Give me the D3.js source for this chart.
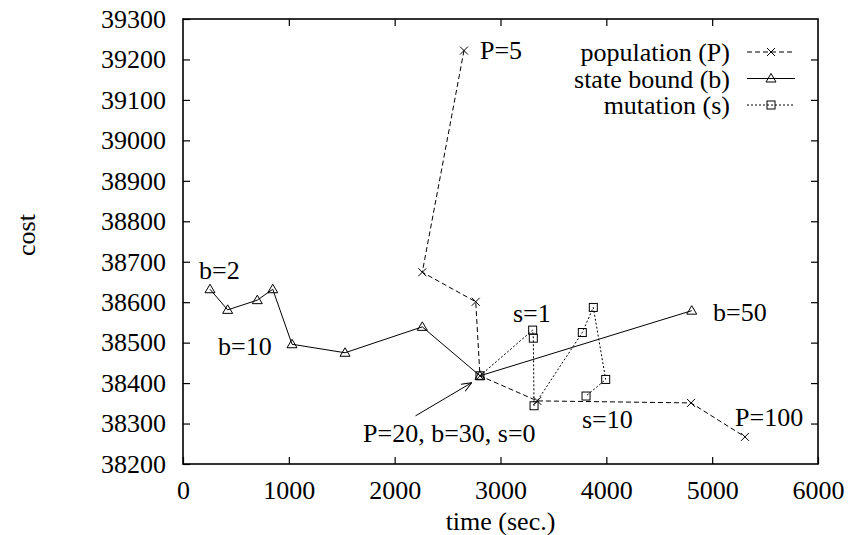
<!DOCTYPE html>
<html>
<head>
<meta charset="utf-8">
<script src="https://cdn.jsdelivr.net/npm/d3@7"></script>
<style>
  body { margin: 0; background: #fff; }
  text { font-family: "Liberation Serif", "Times New Roman", Times, serif; fill: #000; }
</style>
</head>
<body>
<div id="chart-area"></div>
<script>
// plot area, roughly the gnuplot frame of the original
let margin = {top: 19, right: 31, bottom: 71, left: 183};
let width = 849 - margin.left - margin.right;
let height = 535 - margin.top - margin.bottom;
let fontSize = 26;

// data: time (sec.) and cost for each series
let popTime = [2655, 2261, 2766, 2806, 3348, 4800, 5310];
let popCost = [39222, 38674, 38601, 38418, 38356, 38351, 38267];

let boundTime = [255, 422, 702, 848, 1030, 1531, 2261, 2806, 4807];
let boundCost = [38632, 38581, 38605, 38632, 38496, 38475, 38539, 38418, 38579];

let mutTime = [2806, 3304, 3310, 3317, 3773, 3877, 3994, 3808];
let mutCost = [38418, 38531, 38511, 38344, 38525, 38587, 38409, 38368];

let xTicks = [0, 1000, 2000, 3000, 4000, 5000, 6000];
let yTicks = [38200, 38300, 38400, 38500, 38600, 38700, 38800, 38900, 39000, 39100, 39200, 39300];

let seriesNames = ["population (P)", "state bound (b)", "mutation (s)"];

// annotations placed in data coordinates
let noteText = ["P=5", "b=2", "b=10", "s=1", "b=50", "s=10", "P=100", "P=20, b=30, s=0"];
let noteTime = [2806, 151, 331, 3118, 5008, 3770, 5216, 1701];
let noteCost = [39223, 38680, 38492, 38574, 38576, 38311, 38317, 38277];
let arrowFrom = [2197, 38319];
let arrowTo = [2728, 38401];

let svg = d3.select("#chart-area").append("svg")
    .attr("width", width + margin.left + margin.right)
    .attr("height", height + margin.top + margin.bottom);

let g = svg.append("g")
    .attr("transform", "translate(" + margin.left + "," + margin.top + ")");

let xScale = d3.scaleLinear().domain([0, 6000]).range([0, width]);
let yScale = d3.scaleLinear().domain([38200, 39300]).range([height, 0]);

// axes - gnuplot style, ticks pointing inwards and mirrored
let xAxis = d3.axisBottom(xScale).tickValues(xTicks).tickFormat(d3.format("d"))
    .tickSizeInner(-7).tickSizeOuter(0).tickPadding(17);
let yAxis = d3.axisLeft(yScale).tickValues(yTicks).tickFormat(d3.format("d"))
    .tickSizeInner(-7).tickSizeOuter(0).tickPadding(17);

let xGroup = g.append("g").attr("transform", `translate(0,${height})`).call(xAxis);
let yGroup = g.append("g").call(yAxis);

g.append("g").call(d3.axisTop(xScale).tickValues(xTicks.slice(1, -1)).tickSizeInner(-7).tickSizeOuter(0).tickFormat(""));
g.append("g").attr("transform", `translate(${width},0)`)
    .call(d3.axisRight(yScale).tickValues(yTicks.slice(1, -1)).tickSizeInner(-7).tickSizeOuter(0).tickFormat(""));

g.selectAll(".domain").remove();
g.selectAll(".tick line").attr("stroke", "#000").attr("stroke-width", 1.2);
g.selectAll(".tick text")
    .style("font-family", "'Liberation Serif', 'Times New Roman', serif")
    .style("font-size", fontSize + "px")
    .attr("fill", "#000");

g.append("rect")
    .attr("width", width)
    .attr("height", height)
    .attr("fill", "none")
    .attr("stroke", "#000")
    .attr("stroke-width", 1.6);

// axis titles
svg.append("text")
    .attr("x", margin.left + width / 2)
    .attr("y", 530)
    .attr("text-anchor", "middle")
    .style("font-size", fontSize + "px")
    .text("time (sec.)");

svg.append("text")
    .attr("transform", "translate(35,235) rotate(-90)")
    .attr("text-anchor", "middle")
    .style("font-size", fontSize + "px")
    .text("cost");

// marker shapes
function drawMarker(sel, kind, x, y) {
    if (kind == "x") {
        sel.append("path")
            .attr("d", `M${x - 4},${y - 4}L${x + 4},${y + 4}M${x - 4},${y + 4}L${x + 4},${y - 4}`)
            .attr("stroke", "#000").attr("stroke-width", 1).attr("fill", "none");
    } else if (kind == "tri") {
        sel.append("path")
            .attr("d", `M${x},${y - 5}L${x + 5},${y + 3.5}L${x - 5},${y + 3.5}Z`)
            .attr("stroke", "#000").attr("stroke-width", 1).attr("fill", "none");
    } else {
        sel.append("rect")
            .attr("x", x - 4).attr("y", y - 4).attr("width", 8).attr("height", 8)
            .attr("stroke", "#000").attr("stroke-width", 1).attr("fill", "none");
    }
}

let series = [
    {time: popTime, cost: popCost, dash: "5,3", marker: "x"},
    {time: boundTime, cost: boundCost, dash: null, marker: "tri"},
    {time: mutTime, cost: mutCost, dash: "2,2", marker: "sq"}
];

let line = d3.line()
    .x(d => xScale(d[0]))
    .y(d => yScale(d[1]));

series.forEach(s => {
    let pts = s.time.map((t, i) => [t, s.cost[i]]);
    g.append("path")
        .attr("d", line(pts))
        .attr("fill", "none")
        .attr("stroke", "#000")
        .attr("stroke-width", 1)
        .attr("stroke-dasharray", s.dash);
    let mg = g.append("g");
    pts.forEach(p => drawMarker(mg, s.marker, xScale(p[0]), yScale(p[1])));
});

// legend
let legend = svg.append("g");
series.forEach((s, i) => {
    let y = 52 + i * 26.5;
    legend.append("text")
        .attr("x", 730)
        .attr("y", y)
        .attr("dy", "0.35em")
        .attr("text-anchor", "end")
        .style("font-size", fontSize + "px")
        .text(seriesNames[i]);
    legend.append("line")
        .attr("x1", 747).attr("x2", 795)
        .attr("y1", y).attr("y2", y)
        .attr("stroke", "#000")
        .attr("stroke-width", 1)
        .attr("stroke-dasharray", s.dash);
    drawMarker(legend, s.marker, 771, y);
});

// annotations
noteText.forEach((t, i) => {
    g.append("text")
        .attr("x", xScale(noteTime[i]))
        .attr("y", yScale(noteCost[i]))
        .attr("dy", "0.35em")
        .style("font-size", fontSize + "px")
        .text(t);
});

svg.append("defs").append("marker")
    .attr("id", "head")
    .attr("viewBox", "0 0 10 10")
    .attr("refX", 10).attr("refY", 5)
    .attr("markerWidth", 10).attr("markerHeight", 10)
    .attr("markerUnits", "userSpaceOnUse")
    .attr("orient", "auto")
  .append("path")
    .attr("d", "M0,1L10,5L0,9")
    .attr("fill", "none")
    .attr("stroke", "#000");

g.append("line")
    .attr("x1", xScale(arrowFrom[0])).attr("y1", yScale(arrowFrom[1]))
    .attr("x2", xScale(arrowTo[0])).attr("y2", yScale(arrowTo[1]))
    .attr("stroke", "#000")
    .attr("stroke-width", 1)
    .attr("marker-end", "url(#head)");
</script>
</body>
</html>
